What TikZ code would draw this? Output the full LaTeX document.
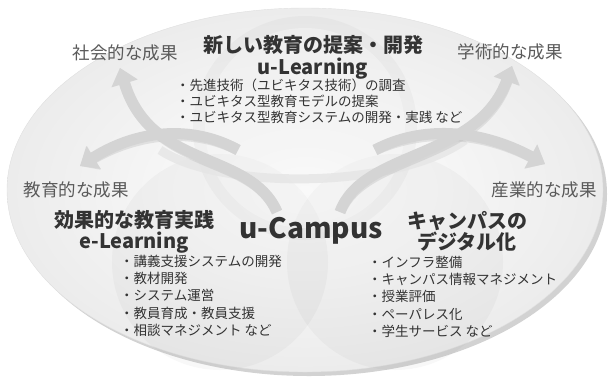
\documentclass[tikz,border=0pt]{standalone}
\usepackage{fontspec}
\setmainfont{Noto Sans CJK JP}
\usetikzlibrary{positioning,arrows.meta}
\definecolor{inkgray}{HTML}{333333}
\definecolor{softgray}{HTML}{5A5A5A}
\definecolor{swoosh}{HTML}{D4D4D4}
\tikzset{
    result/.style={font=\fontsize{17.5}{20}\selectfont, text=softgray},
    heading/.style={font=\bfseries\fontsize{20}{21.5}\selectfont, text=inkgray, align=center},
    items/.style={font=\fontsize{13.5}{17.2}\selectfont, text=inkgray, align=left, inner sep=0pt},
    flow/.style={line width=11pt, draw=swoosh, -{Triangle[length=16pt,width=26pt]}},
    flowshadow/.style={line width=11pt, draw=gray!60, opacity=0.3, -{Triangle[length=16pt,width=26pt]}, shift={(2,2.5)}},
    venn/.style={fill=gray, opacity=0.06}
}

\begin{document}
\begin{tikzpicture}[x=1pt,y=-1pt]
\useasboundingbox (0,0) rectangle (612,386);

\fill[gray!35] (309,194) ellipse [x radius=298, y radius=182];
\shade[inner color=white, outer color=gray!15, draw=gray!25] (305,190) ellipse [x radius=298, y radius=182];
\fill[venn] (305,128) circle [radius=112];
\fill[venn] (220,262) circle [radius=108];
\fill[venn] (395,262) circle [radius=108];
\fill[white, opacity=0.3] (305,128) circle [radius=100];

\coordinate (lstem) at (277,212);
\coordinate (lfork) at (238,150);
\coordinate (rstem) at (340,212);
\coordinate (rfork) at (375,150);
\coordinate (socialtip) at (120,68);
\coordinate (edutip) at (80,166);
\coordinate (academictip) at (512,66);
\coordinate (industrytip) at (545,164);

\draw[line width=9pt, draw=gray!20, opacity=0.8] (160,150) .. controls (220,190) and (395,190) .. (465,140);

\draw[flowshadow] (lstem) .. controls (250,150) and (150,170) .. (socialtip);
\draw[flowshadow] (lfork) .. controls (195,126) and (140,128) .. (edutip);
\draw[flowshadow] (rstem) .. controls (362,150) and (478,160) .. (academictip);
\draw[flowshadow] (rfork) .. controls (420,126) and (478,128) .. (industrytip);
\draw[flow] (lstem) .. controls (250,150) and (150,170) .. (socialtip);
\draw[flow] (lfork) .. controls (195,126) and (140,128) .. (edutip);
\draw[flow] (rstem) .. controls (362,150) and (478,160) .. (academictip);
\draw[flow] (rfork) .. controls (420,126) and (478,128) .. (industrytip);

\node[heading] (ulearn) at (313,57.5) {新しい教育の提案・開発\\u-Learning};
\node[items, anchor=north west] (ulist) at (176,79) {・先進技術（ユビキタス技術）の調査\\[-1.2pt]・ユビキタス型教育モデルの提案\\[-1.2pt]・ユビキタス型教育システムの開発・実践 など};

\node[result] (social) at (125,53) {社会的な成果};
\node[result] (academic) at (510,52) {学術的な成果};
\node[result] (edu) at (76,190) {教育的な成果};
\node[result] (industry) at (544,190) {産業的な成果};

\node[heading] (elearn) at (134,232) {効果的な教育実践\\e-Learning};
\node[font=\bfseries\fontsize{28}{30}\selectfont, text=inkgray] (ucampus) at (311,231) {u-Campus};
\node[heading] (digital) at (467,231.5) {キャンパスの\\デジタル化};

\node[items, anchor=north west] (elist) at (120,255) {・講義支援システムの開発\\・教材開発\\・システム運営\\・教員育成・教員支援\\・相談マネジメント など};
\node[items, anchor=north west] (dlist) at (368,256) {・インフラ整備\\・キャンパス情報マネジメント\\・授業評価\\・ペーパレス化\\・学生サービス など};
\end{tikzpicture}
\end{document}
